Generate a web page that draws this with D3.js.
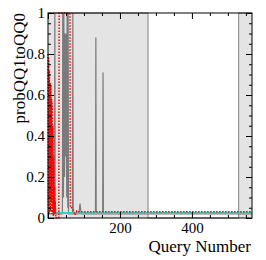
<!DOCTYPE html>
<html><head><meta charset="utf-8">
<script src="https://cdn.jsdelivr.net/npm/d3@7"></script>
<style>body{margin:0;background:#fff}</style>
</head><body>
<svg id="c" width="266" height="260"></svg>
<script>
// ---- data ----
const xMajorTicks = [0, 200, 400];
const xMinorTicks = [50, 100, 150, 250, 300, 350, 450, 500, 550];
const yMajorTicks = [0, 0.2, 0.4, 0.6, 0.8, 1];
const yMinorTicks = [0.05,0.1,0.15,0.25,0.3,0.35,0.45,0.5,0.55,0.65,0.7,0.75,0.85,0.9,0.95];

// background band (state indicator)
const bandQ = [0, 278, 278, 530, 530, 567];
const bandV = [1, 1, 0, 0, 1, 1];

// dark gray series
const grayQ = [0,18,19,20,40,41,43,44,46,47,49,50,52,53,55,56,57,68,69,70,86,89,92,132,133,134,152,153,154,567];
const grayV = [0.02,0.02,1,0.02,0.02,1,0.1,1,0.2,0.9,0.3,0.9,0.1,1,0.05,1,0.02,0.02,1,0.02,0.02,0.07,0.02,0.02,0.88,0.02,0.02,0.71,0.02,0.02];

// red dotted series
const redQ = [0,1,2,3,4,5,6,7,8,9,10,11,12,13,14,15,16,17,18,19,20,22,30,31,61,62,66,70,75,80,85,92,100,200,400,567];
const redV = [0.80,0.05,0.78,0.02,0.72,0.10,0.66,0.03,0.65,0.08,0.58,0.02,0.56,0.05,0.45,0.01,0.30,0.04,0.15,0.02,0.08,0,0,1,1,0.05,0.05,0.04,0.015,0.035,0.03,0.03,0.03,0.03,0.03,0.03];

// cyan series
const cyanQ = [20, 100, 300, 567];
const cyanV = [0.025, 0.025, 0.025, 0.025];

// ---- layout ----
const W = 266, H = 260;
const m = {l: 48, r: 14, t: 13, b: 42};
const svg = d3.select("#c");
const x = d3.scaleLinear().domain([0, 567]).range([m.l, W - m.r]);
const y = d3.scaleLinear().domain([0, 1]).range([H - m.b, m.t]);
const font = "'Liberation Serif', 'Times New Roman', serif";

const pts = (q, v) => q.map((d, i) => [d, v[i]]);

svg.append("path")
  .datum(pts(bandQ, bandV))
  .attr("d", d3.area().x(d => x(d[0])).y0(y(0)).y1(d => y(d[1])))
  .attr("fill", "#e4e4e4");
svg.append("path")
  .datum(pts(bandQ, bandV))
  .attr("d", d3.line().x(d => x(d[0])).y(d => y(d[1])))
  .attr("fill", "none").attr("stroke", "#808080").attr("stroke-width", 1);

const line = d3.line().x(d => x(d[0])).y(d => y(d[1]));
svg.append("path").datum(pts(grayQ, grayV)).attr("d", line)
  .attr("fill", "none").attr("stroke", "#7a7a7a").attr("stroke-width", 1.2);
svg.append("path").datum(pts(cyanQ, cyanV)).attr("d", line)
  .attr("fill", "none").attr("stroke", "#33cccc").attr("stroke-width", 2);
svg.append("path").datum(pts(redQ, redV)).attr("d", line)
  .attr("fill", "none").attr("stroke", "#ff0000").attr("stroke-width", 1.5)
  .attr("stroke-dasharray", "1.5,1.5");

// ---- axes ----
function styleAxis(g) {
  g.select(".domain").remove();
  g.selectAll("line").attr("stroke", "#000");
  g.selectAll("text").attr("font-family", font).attr("font-size", 15).attr("fill", "#000");
}
svg.append("g").attr("transform", `translate(0,${H - m.b})`)
  .call(d3.axisBottom(x).tickValues(xMajorTicks).tickSize(-6).tickPadding(4)
    .tickFormat(d => d === 0 ? "" : d)).call(styleAxis);
svg.append("g").attr("transform", `translate(0,${H - m.b})`)
  .call(d3.axisBottom(x).tickValues(xMinorTicks).tickSize(-3).tickFormat("")).call(styleAxis);
svg.append("g").attr("transform", `translate(0,${m.t})`)
  .call(d3.axisTop(x).tickValues(xMajorTicks).tickSize(-6).tickFormat("")).call(styleAxis);
svg.append("g").attr("transform", `translate(0,${m.t})`)
  .call(d3.axisTop(x).tickValues(xMinorTicks).tickSize(-3).tickFormat("")).call(styleAxis);
svg.append("g").attr("transform", `translate(${m.l},0)`)
  .call(d3.axisLeft(y).tickValues(yMajorTicks).tickSize(-6).tickPadding(3)
    .tickFormat(d => String(+d.toFixed(1)))).call(styleAxis);
svg.append("g").attr("transform", `translate(${m.l},0)`)
  .call(d3.axisLeft(y).tickValues(yMinorTicks).tickSize(-3).tickFormat("")).call(styleAxis);
svg.append("g").attr("transform", `translate(${W - m.r},0)`)
  .call(d3.axisRight(y).tickValues(yMajorTicks).tickSize(-6).tickFormat("")).call(styleAxis);
svg.append("g").attr("transform", `translate(${W - m.r},0)`)
  .call(d3.axisRight(y).tickValues(yMinorTicks).tickSize(-3).tickFormat("")).call(styleAxis);

svg.append("rect").attr("x", m.l).attr("y", m.t)
  .attr("width", W - m.l - m.r).attr("height", H - m.t - m.b)
  .attr("fill", "none").attr("stroke", "#000").attr("stroke-width", 1);

svg.append("text").attr("x", W - m.r - 1).attr("y", 252)
  .attr("text-anchor", "end").attr("font-family", font).attr("font-size", 17)
  .text("Query Number");
svg.append("text").attr("transform", `translate(25,${m.t}) rotate(-90)`)
  .attr("text-anchor", "end").attr("font-family", font).attr("font-size", 17)
  .text("probQQ1toQQ0");
</script>
</body></html>
